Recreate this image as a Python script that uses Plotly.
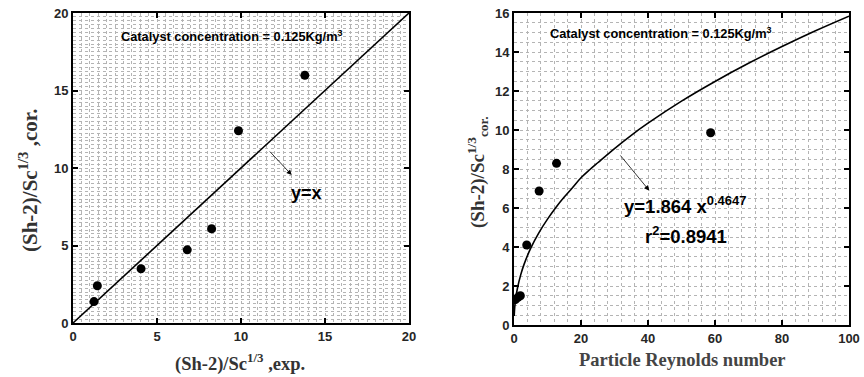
import plotly.graph_objects as go

# ---- data ----
left_x = [1.25, 1.45, 4.05, 6.8, 8.25, 9.85, 13.8]
left_y = [1.38, 2.4, 3.5, 4.72, 6.08, 12.4, 15.98]
ideal_x = [0, 20]
ideal_y = [0, 20]

right_x = [0.4, 1.2, 1.9, 3.8, 7.5, 12.7, 58.7]
right_y = [1.3, 1.42, 1.5, 4.1, 6.87, 8.29, 9.86]
fit_x = [0.05, 0.2, 0.5, 1, 2, 3, 5, 7.5, 10, 12.5, 15, 17.5, 20, 22.5, 25, 30, 35, 40, 50, 60, 70, 80, 90, 100]
fit_y = [0.46, 0.88, 1.35, 1.86, 2.57, 3.11, 3.94, 4.75, 5.43, 6.03, 6.56, 7.05, 7.55, 7.95, 8.32, 9.05, 9.73,
         10.35, 11.48, 12.49, 13.42, 14.28, 15.09, 15.84]

left_ticks = [0, 5, 10, 15, 20]
right_xticks = [0, 20, 40, 60, 80, 100]
right_yticks = [0, 2, 4, 6, 8, 10, 12, 14, 16]

W, H = 864, 377
L_box = (73, 409, 13, 323)
R_box = (514, 849, 13, 325)


def dom(box):
    x0, x1, y0, y1 = box
    return [x0 / W, x1 / W], [(H - y1) / H, (H - y0) / H]


GRID = "#b4b4b4"
TICKFONT = dict(family="Arial", size=13, color="#262626", weight="bold")


def axis(domain, rng, tickvals, minor_dtick, anchor):
    return dict(
        domain=domain, range=rng, tickvals=tickvals, anchor=anchor, automargin=False,
        showline=True, linecolor="black", linewidth=2, mirror="allticks",
        ticks="inside", ticklen=5, tickwidth=2, tickcolor="black",
        tickfont=TICKFONT, zeroline=False,
        showgrid=True, gridcolor=GRID, griddash="dot", gridwidth=1,
        minor=dict(dtick=minor_dtick, showgrid=True, gridcolor=GRID, griddash="dot", gridwidth=1),
    )


lx, ly = dom(L_box)
rx, ry = dom(R_box)

fig = go.Figure()
fig.add_trace(go.Scatter(x=ideal_x, y=ideal_y, mode="lines", line=dict(color="black", width=1.6),
                         xaxis="x", yaxis="y", showlegend=False))
fig.add_trace(go.Scatter(x=left_x, y=left_y, mode="markers", marker=dict(color="black", size=9),
                         xaxis="x", yaxis="y", showlegend=False))
fig.add_trace(go.Scatter(x=fit_x, y=fit_y, mode="lines", line=dict(color="black", width=1.6, shape="spline"),
                         xaxis="x2", yaxis="y2", showlegend=False))
fig.add_trace(go.Scatter(x=right_x, y=right_y, mode="markers", marker=dict(color="black", size=9),
                         xaxis="x2", yaxis="y2", showlegend=False))

bold = dict(family="Arial", weight="bold", color="black")
serif = dict(family="Liberation Serif", weight="bold")
C = dict(xanchor="center", yanchor="middle", showarrow=False)

annotations = [
    dict(xref="x", yref="y", x=9.46, y=18.5, **C,
         text="Catalyst concentration = 0.125Kg/m<sup>3</sup>", font=dict(size=12.8, **bold)),
    dict(xref="x", yref="y", x=13.02, y=9.55, ax=11.63, ay=11.16, axref="x", ayref="y",
         showarrow=True, arrowhead=2, arrowsize=1.3, arrowwidth=0.8, arrowcolor="black", text=""),
    dict(xref="x", yref="y", x=13.9, y=8.4, **C, text="y=x", font=dict(size=18, **bold)),
    dict(xref="x2", yref="y2", x=43.9, y=14.96, **C,
         text="Catalyst concentration = 0.125Kg/m<sup>3</sup>", font=dict(size=12.8, **bold)),
    dict(xref="x2", yref="y2", x=40.4, y=6.89, ax=31.4, ay=8.77, axref="x2", ayref="y2",
         showarrow=True, arrowhead=2, arrowsize=1.3, arrowwidth=0.8, arrowcolor="black", text=""),
    dict(xref="x2", yref="y2", x=32.1, y=6.15, xanchor="left", yanchor="middle", showarrow=False,
         text="y=1.864 x<sup>0.4647</sup>", font=dict(size=18.5, **bold)),
    dict(xref="x2", yref="y2", x=51.3, y=4.6, **C,
         text="r<sup>2</sup>=0.8941", font=dict(size=18.5, **bold)),
    # axis titles
    dict(xref="paper", yref="paper", x=240 / W, y=1 - 362 / H, **C,
         text="(Sh-2)/Sc<sup>1/3</sup> ,exp.", font=dict(size=18.5, color="#333333", **serif)),
    dict(xref="paper", yref="paper", x=29 / W, y=1 - 181 / H, **C, textangle=-90,
         text="(Sh-2)/Sc<sup>1/3</sup> ,cor.", font=dict(size=21, color="#333333", **serif)),
    dict(xref="paper", yref="paper", x=682 / W, y=1 - 360 / H, **C,
         text="Particle Reynolds number", font=dict(size=18.5, color="#444444", **serif)),
    dict(xref="paper", yref="paper", x=477 / W, y=1 - 173 / H, **C, textangle=-90,
         text="(Sh-2)/Sc<sup>1/3</sup><sub>cor.</sub>", font=dict(size=19, color="#333333", **serif)),
]

fig.update_layout(
    width=W, height=H, margin=dict(l=0, r=0, t=0, b=0, autoexpand=False),
    paper_bgcolor="white", plot_bgcolor="white",
    xaxis=axis(lx, [0, 20], left_ticks, 0.5, "y"),
    yaxis=axis(ly, [0, 20], left_ticks, 0.25, "x"),
    xaxis2=axis(rx, [0, 100], right_xticks, 4, "y2"),
    yaxis2=axis(ry, [0, 16], right_yticks, 0.5, "x2"),
    annotations=annotations,
)

fig.write_html("out.html")
